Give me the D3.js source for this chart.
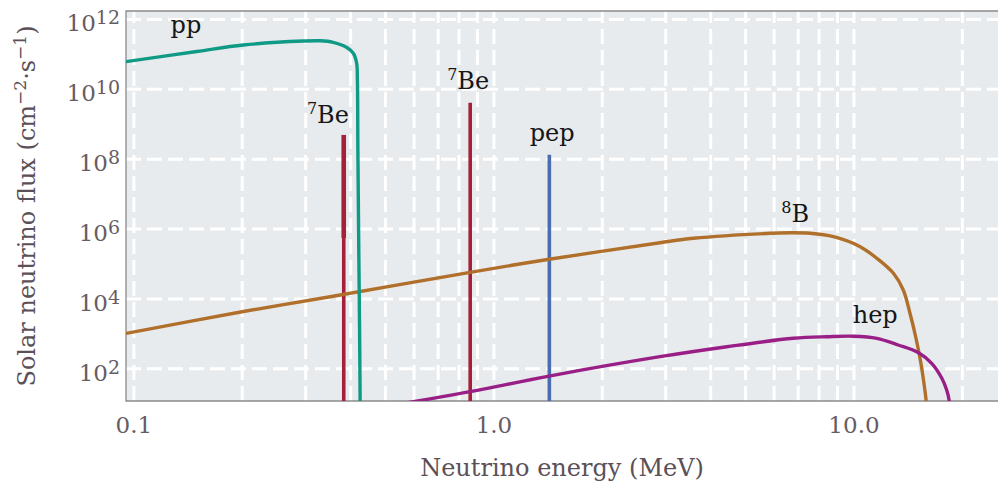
<!DOCTYPE html>
<html>
<head>
<meta charset="utf-8">
<script src="https://cdn.jsdelivr.net/npm/d3@7"></script>
<style>
  body { margin: 0; background: #ffffff; }
  svg { display: block; }
  text { font-family: "DejaVu Serif", serif; }
</style>
</head>
<body>
<svg id="chart" width="998" height="485"></svg>
<script>
// ---- Solar neutrino spectra (energy in MeV, flux in cm^-2 s^-1) ----
const ppEnergy = [0.0954, 0.15, 0.202, 0.2966, 0.330, 0.3587, 0.3916, 0.4085, 0.4169, 0.4190, 0.4203, 0.4222, 0.4249, 0.4268];
const ppFlux   = [6.0e10, 1.17e11, 1.80e11, 2.34e11, 2.38e11, 2.15e11, 1.53e11, 1.03e11, 5.5e10, 1.8e10, 1.78e8, 9.1e5, 1.25e3, 3.3];

const b8Energy = [0.0954, 0.2004, 0.352, 0.8615, 1.428, 2.90, 3.593, 5.87, 6.67, 7.58, 8.80, 10.44, 11.61, 12.91, 13.75, 14.37, 14.89, 15.37, 15.72, 15.92, 16.13];
const b8Flux   = [1.0e3, 4.17e3, 1.12e4, 5.6e4, 1.32e5, 3.94e5, 5.27e5, 7.33e5, 7.57e5, 7.33e5, 5.85e5, 3.03e5, 1.41e5, 5.25e4, 1.75e4, 3.58e3, 787, 151, 33, 11.6, 2.4];

const hepEnergy = [0.5506, 0.862, 1.428, 2.90, 4.45, 6.81, 8.44, 10.0, 11.61, 13.31, 15.12, 16.49, 17.58, 18.15, 18.45, 18.62];
const hepFlux   = [9.5, 21.4, 60, 215, 415, 723, 803, 830, 723, 465, 283, 139, 52.7, 23.9, 11.6, 3.3];

// Monoenergetic lines
const lineSource = ["7Be", "7Be", "pep"];
const lineEnergy = [0.384, 0.862, 1.43];
const lineFlux   = [4.8e8, 4.0e9, 1.3e8];
// upper, heavier part of the 0.384 MeV 7Be line
const be7LowSegment = [4.8e8, 5.4e5];

// Source labels: text, superscript prefix, anchor energy, anchor flux
const labelMain  = ["pp", "Be", "Be", "pep", "B", "hep"];
const labelSup   = ["", "7", "7", "", "8", ""];
const labelEnergy = [0.140, 0.347, 0.851, 1.456, 6.89, 11.49];
const labelFlux   = [4.0e11, 1.05e9, 9.8e9, 3.2e8, 1.58e6, 1.95e3];

// Axes
const xTickValues = [0.1, 1, 10];
const xTickLabels = ["0.1", "1.0", "10.0"];
const yTickExponents = [2, 4, 6, 8, 10, 12];
const xDomain = [0.0954, 25.2];
const yDomain = [Math.pow(10, 1.064), Math.pow(10, 12.229)];

// ---- layout ----
const plotLeft = 126, plotRight = 998, plotTop = 11, plotBottom = 401;
const plotW = plotRight - plotLeft, plotH = plotBottom - plotTop;

const colors = {
  pp: "#0f9a86", be7: "#a5213a", pep: "#4a6db0", b8: "#b06f2b", hep: "#991f86"
};
const tickColor = "#675c63";
const titleColor = "#5c5057";

const svg = d3.select("#chart");

const x = d3.scaleLog().domain(xDomain).range([plotLeft, plotRight]);
const y = d3.scaleLog().domain(yDomain).range([plotBottom, plotTop]);

svg.append("defs").append("clipPath").attr("id", "plot-clip")
  .append("rect").attr("x", plotLeft).attr("y", plotTop).attr("width", plotW).attr("height", plotH);

// plot background
svg.append("rect")
  .attr("x", plotLeft).attr("y", plotTop).attr("width", plotW).attr("height", plotH)
  .attr("fill", "#e8ebee");

// grid: every integer multiple per decade on x, every second decade on y
const xGridValues = [];
for (let k = -1; k <= 1; k++) for (let m = 1; m <= 9; m++) {
  const v = m * Math.pow(10, k);
  if (v >= xDomain[0] && v <= xDomain[1]) xGridValues.push(v);
}
const yGridValues = yTickExponents.map(e => Math.pow(10, e));

const gridX = svg.append("g").attr("transform", `translate(0,${plotBottom})`)
  .call(d3.axisBottom(x).tickValues(xGridValues).tickSize(-plotH).tickFormat(""));
const gridY = svg.append("g").attr("transform", `translate(${plotLeft},0)`)
  .call(d3.axisLeft(y).tickValues(yGridValues).tickSize(-plotW).tickFormat(""));
[gridX, gridY].forEach(g => {
  g.select(".domain").remove();
  g.selectAll("line")
    .attr("stroke", "#ffffff")
    .attr("stroke-width", 3)
    .attr("stroke-dasharray", "15,6");
});

// plot frame (left, bottom, top)
svg.append("path")
  .attr("d", `M${plotRight},${plotTop}H${plotLeft}V${plotBottom}H${plotRight}`)
  .attr("fill", "none").attr("stroke", "#8a8a8a").attr("stroke-width", 1.3);

const plot = svg.append("g").attr("clip-path", "url(#plot-clip)");

const lineGen = d3.line()
  .x(d => x(d[0]))
  .y(d => y(d[1]))
  .curve(d3.curveCatmullRom.alpha(0.5));

// monoenergetic lines, drawn to below the axis floor
lineEnergy.forEach((e, i) => {
  plot.append("line")
    .attr("x1", x(e)).attr("x2", x(e))
    .attr("y1", y(lineFlux[i])).attr("y2", plotBottom + 5)
    .attr("stroke", lineSource[i] === "pep" ? colors.pep : colors.be7)
    .attr("stroke-width", 3.6);
});
plot.append("line")
  .attr("x1", x(lineEnergy[0])).attr("x2", x(lineEnergy[0]))
  .attr("y1", y(be7LowSegment[0])).attr("y2", y(be7LowSegment[1]))
  .attr("stroke", colors.be7).attr("stroke-width", 4.6);

// continuous spectra
const spectra = [
  { e: b8Energy, f: b8Flux, c: colors.b8 },
  { e: hepEnergy, f: hepFlux, c: colors.hep },
  { e: ppEnergy, f: ppFlux, c: colors.pp }
];
spectra.forEach(s => {
  plot.append("path")
    .datum(s.e.map((v, i) => [v, s.f[i]]))
    .attr("d", lineGen)
    .attr("fill", "none")
    .attr("stroke", s.c)
    .attr("stroke-width", 3.4)
    .attr("stroke-linejoin", "round");
});

// source labels
labelMain.forEach((t, i) => {
  const txt = svg.append("text")
    .attr("x", x(labelEnergy[i])).attr("y", y(labelFlux[i]))
    .attr("text-anchor", "middle")
    .attr("fill", "#161616")
    .style("font-size", "24px");
  if (labelSup[i]) {
    txt.append("tspan").attr("dy", -9).style("font-size", "16px").text(labelSup[i]);
    txt.append("tspan").attr("dy", 9).text(t);
  } else {
    txt.append("tspan").text(t);
  }
});

// x axis
const xAxis = svg.append("g").attr("transform", `translate(0,${plotBottom})`)
  .call(d3.axisBottom(x).tickValues(xTickValues).tickFormat((d, i) => xTickLabels[i]).tickSize(0));
xAxis.select(".domain").remove();
xAxis.selectAll("text")
  .attr("y", 32).attr("dy", null)
  .attr("fill", tickColor)
  .style("font-size", "23px")
  .style("font-family", "DejaVu Serif, serif");

// y axis with power-of-ten labels
const yAxis = svg.append("g").attr("transform", `translate(${plotLeft},0)`)
  .call(d3.axisLeft(y).tickValues(yGridValues).tickFormat("").tickSize(0));
yAxis.select(".domain").remove();
yAxis.selectAll(".tick text")
  .attr("x", -6).attr("dy", null).attr("y", 12)
  .attr("text-anchor", "end")
  .attr("fill", tickColor)
  .style("font-size", "23px")
  .style("font-family", "DejaVu Serif, serif")
  .each(function (d, i) {
    const t = d3.select(this);
    t.append("tspan").text("10");
    t.append("tspan").attr("dy", -7).style("font-size", "19px").text(yTickExponents[i]);
  });

// axis titles
svg.append("text")
  .attr("x", (plotLeft + plotRight) / 2).attr("y", 476)
  .attr("text-anchor", "middle")
  .attr("fill", titleColor)
  .style("font-size", "24px")
  .text("Neutrino energy (MeV)");

const yTitle = svg.append("text")
  .attr("transform", `translate(35,${(plotTop + plotBottom) / 2}) rotate(-90)`)
  .attr("text-anchor", "middle")
  .attr("fill", titleColor)
  .style("font-size", "24px");
yTitle.append("tspan").text("Solar neutrino flux (cm");
yTitle.append("tspan").attr("dy", -9).style("font-size", "17px").text("−2");
yTitle.append("tspan").attr("dy", 9).text("·s");
yTitle.append("tspan").attr("dy", -9).style("font-size", "17px").text("−1");
yTitle.append("tspan").attr("dy", 9).text(")");
</script>
</body>
</html>
